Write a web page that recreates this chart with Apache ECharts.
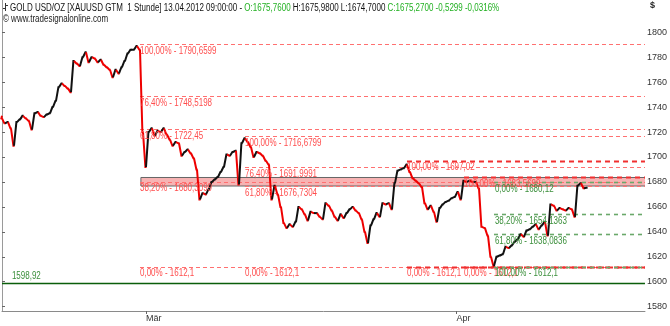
<!DOCTYPE html>
<html><head><meta charset="utf-8">
<script src="https://cdn.jsdelivr.net/npm/echarts@6/dist/echarts.min.js"></script>
<style>html,body{margin:0;padding:0;background:#fff}#c{width:670px;height:326px}</style>
</head><body><div id="c"></div>
<script>
// Hourly gold closes, sampled every ~5 trading hours (bar index 0..195)
const closes = [1731,1727,1728,1723,1709,1728,1730,1733,1731,1729,1722,1735,1736,1733,1732,1734,1735,1740,1745,1756,1759,1757,1755,1752,1777,1775,1773,1780,1784,1776,1780,1779,1776,1778,1774,1772,1770,1764,1770,1767,1772,1777,1783,1786,1786,1789,1786,1720,1692,1720,1723,1717,1721,1720,1723,1718,1714,1709,1712,1711,1701,1704,1706,1703,1699,1690,1666,1671,1670,1674,1680,1682,1684,1688,1692,1702,1701,1704,1705,1678,1711,1715,1712,1708,1700,1704,1703,1701,1697,1694,1666,1677,1670,1660,1647,1643,1646,1644,1648,1660,1658,1654,1649,1656,1655,1655,1652,1650,1663,1661,1657,1652,1649,1654,1651,1655,1658,1660,1657,1655,1650,1640,1631,1645,1650,1655,1652,1663,1662,1663,1658,1679,1689,1690,1691,1694,1688,1683,1681,1679,1676,1663,1658,1661,1656,1648,1659,1662,1664,1665,1667,1668,1672,1666,1681,1680,1681,1680,1680,1675,1644,1643,1637,1620,1612.5,1620,1621,1622,1628,1627,1629,1632,1634,1638,1636,1641,1642,1644,1646,1642,1645,1648,1637,1662,1661,1657,1659,1658,1657,1659,1658,1652,1677,1679,1675,1675.3];
const firstOpen = 1733;

// Fibonacci retracements (start bar index, percent labels, level values)
const fib1Start = 46;
const fib1Pct = ['100,00%','76,40%','61,80%','38,20%','0,00%'];
const fib1Val = [1790.6599,1748.5198,1722.45,1680.3099,1612.1];
const fib2Start = 81;
const fib2Pct = ['100,00%','76,40%','61,80%','0,00%'];
const fib2Val = [1716.6799,1691.9991,1676.7304,1612.1];
const fib3Start = 135;
const fib3Pct = ['100,00%','0,00%'];
const fib3Val = [1697.02,1612.1];
const fib4Start = 154;
const fib4Pct = ['100,00%','0,00%'];
const fib4Val = [1683.5699,1612.1];
const fibGStart = 164;
const fibGPct = ['0,00%','38,20%','61,80%','100,00%'];
const fibGVal = [1680.12,1654.1363,1638.0836,1612.1];
// shaded zone
const zoneStart = 46.3;
const zoneLow = 1676.7304, zoneHigh = 1683.5699;
// support line
const supportVal = 1598.92;

// axes
const yTicks = [1580,1600,1620,1640,1660,1680,1700,1720,1740,1760,1780,1800];
const xTickPos = [48, 151.5];
const xTickLabels = ['Mär','Apr'];
const xMin = 0, xMax = 214.33, yMin = 1576.5, yMax = 1825.9;

const FAM = 'Liberation Sans';
const FS = 10;
const SX = 0.8;
const RED_T = '#ff4d4d', GREEN_T = '#3b8f3b';

const segData = closes.map((c, i) => [i, i === 0 ? firstOpen : closes[i-1], c]);

function lineItems(start, vals, style) { return vals.map(v => [start, v, style]); }
const lineData = [].concat(
  lineItems(fib1Start, fib1Val, 0),
  lineItems(fib2Start, fib2Val, 0),
  lineItems(fib3Start, fib3Val, 1),
  lineItems(fib4Start, fib4Val, 1),
  lineItems(fibGStart, fibGVal, 2),
  [[xMin, supportVal, 3]]
);
const lineStyles = [
  {stroke:'#ff7070', lineWidth:1, lineDash:[4,3]},
  {stroke:'#f03030', lineWidth:2, lineDash:[5,4]},
  {stroke:'#6aa86a', lineWidth:1.6, lineDash:[4,4]},
  {stroke:'#0b5e0b', lineWidth:1.6}
];

function fmt(v){ return String(v).replace('.', ','); }
const labels = [];
function addLabels(start, pcts, vals, color) {
  pcts.forEach((p, k) => labels.push({x: start, v: vals[k], text: p + ' - ' + fmt(vals[k]), color: color, above: false}));
}
addLabels(fib1Start, fib1Pct, fib1Val, RED_T);
addLabels(fib2Start, fib2Pct, fib2Val, RED_T);
addLabels(fib3Start, fib3Pct, fib3Val, RED_T);
addLabels(fib4Start, fib4Pct, fib4Val, RED_T);
addLabels(fibGStart + 0.3, fibGPct, fibGVal, GREEN_T);
labels.push({x: 3.3, v: supportVal, text: fmt(supportVal), color: GREEN_T, above: true});

const chart = echarts.init(document.getElementById('c'), null, {renderer:'canvas'});
chart.setOption({
  animation: false,
  backgroundColor: '#fff',
  grid: {left: 2, right: 25, top: 0, bottom: 15, containLabel: false},
  xAxis: {
    type: 'value', min: xMin, max: xMax,
    axisLine: {show: true, lineStyle: {color: '#8a8a8a', width: 1}},
    axisTick: {show: true, length: 3, customValues: xTickPos, lineStyle: {color: '#666'}},
    axisLabel: {customValues: xTickPos, align: 'left', margin: 3, fontSize: 9, color: '#333', fontFamily: FAM,
      formatter: v => { const k = xTickPos.findIndex(p => Math.abs(p - v) < 0.01); return k >= 0 ? xTickLabels[k] : ''; }},
    splitLine: {show: false}
  },
  yAxis: [{
    type: 'value', position: 'right', min: yMin, max: yMax,
    axisLine: {show: true, lineStyle: {color: '#8a8a8a', width: 1}},
    axisTick: {show: true, length: 3, customValues: yTicks, lineStyle: {color: '#666'}},
    axisLabel: {customValues: yTicks, margin: 2, fontSize: 9, color: '#333', fontFamily: FAM, formatter: v => String(v)},
    splitLine: {show: false}
  }, {
    type: 'value', position: 'left', min: yMin, max: yMax,
    axisLine: {show: true, lineStyle: {color: '#9a9a9a', width: 1}},
    axisTick: {show: false}, axisLabel: {show: false}, splitLine: {show: false}
  }],
  series: [
    { // shaded zone
      type: 'custom', z: 1, silent: true,
      data: [[zoneStart, zoneLow, zoneHigh]],
      renderItem: (params, api) => {
        const a = api.coord([api.value(0), api.value(2)]);
        const b = api.coord([api.value(0), api.value(1)]);
        const right = params.coordSys.x + params.coordSys.width;
        return {type: 'group', children: [
          {type: 'rect', shape: {x: a[0], y: a[1], width: right - a[0], height: b[1] - a[1]}, style: {fill: '#f7b3b3'}},
          {type: 'line', shape: {x1: a[0], y1: a[1], x2: right, y2: a[1]}, style: {stroke: '#666', lineWidth: 1}},
          {type: 'line', shape: {x1: a[0], y1: b[1], x2: right, y2: b[1]}, style: {stroke: '#666', lineWidth: 1}},
          {type: 'line', shape: {x1: a[0], y1: a[1], x2: a[0], y2: b[1]}, style: {stroke: '#666', lineWidth: 1}}
        ]};
      }
    },
    { // horizontal levels
      type: 'custom', z: 2, silent: true,
      data: lineData,
      renderItem: (params, api) => {
        const p = api.coord([api.value(0), api.value(1)]);
        const right = params.coordSys.x + params.coordSys.width;
        const y = Math.round(p[1]) + 0.5;
        return {type: 'line', shape: {x1: p[0], y1: y, x2: right, y2: y}, style: Object.assign({fill: null}, lineStyles[api.value(2)])};
      }
    },
    { // price path, each step coloured by direction
      type: 'custom', z: 3, silent: true,
      data: segData,
      renderItem: (params, api) => {
        const i = api.value(0), o = api.value(1), c = api.value(2);
        const p1 = api.coord([i === 0 ? i : i - 1, o]);
        const p2 = api.coord([i, c]);
        return {type: 'polyline', shape: {points: [[p1[0], p1[1]], [p2[0] - 0.6, p2[1]], [p2[0] + 0.6, p2[1]]]},
          style: {stroke: c >= o ? '#111' : '#ee0000', lineWidth: 2, fill: null, lineJoin: 'miter'}};
      }
    },
    { // labels
      type: 'custom', z: 4, silent: true,
      data: labels.map(l => [l.x, l.v]),
      renderItem: (params, api) => {
        const l = labels[params.dataIndex];
        const p = api.coord([api.value(0), api.value(1)]);
        return {type: 'text', x: p[0], y: l.above ? p[1] - 2 : p[1] + 2, scaleX: SX,
          style: {text: l.text, fill: l.color, fontFamily: FAM, fontSize: FS, verticalAlign: l.above ? 'bottom' : 'top', align: 'left'}};
      }
    }
  ],
  graphic: [
    {type: 'text', x: 10, y: 3, scaleX: SX, silent: true,
      style: {text: '{k|GOLD USD/OZ [XAUUSD GTM  1 Stunde] 13.04.2012 09:00:00 - }{g|O:1675,7600}{k| H:1675,9800 L:1674,7000 }{g|C:1675,2700 -0,5299 -0,0316%}',
        fontFamily: FAM, fontSize: FS,
        rich: {k: {fill: '#111', fontFamily: FAM, fontSize: FS}, g: {fill: '#22b022', fontFamily: FAM, fontSize: FS}}}},
    {type: 'text', x: 3, y: 14, scaleX: SX, silent: true,
      style: {text: '© www.tradesignalonline.com', fill: '#222', fontFamily: FAM, fontSize: FS}},
    {type: 'text', x: 650, y: 1, silent: true,
      style: {text: '$', fill: '#222', fontFamily: FAM, fontSize: 9, fontWeight: 'bold'}},
    {type: 'line', silent: true, shape: {x1: 5.5, y1: 3, x2: 5.5, y2: 11}, style: {stroke: '#333', lineWidth: 1}},
    {type: 'line', silent: true, shape: {x1: 3, y1: 8.5, x2: 5.5, y2: 8.5}, style: {stroke: '#333', lineWidth: 1}},
    {type: 'line', silent: true, shape: {x1: 5.5, y1: 5.5, x2: 8, y2: 5.5}, style: {stroke: '#333', lineWidth: 1}}
  ]
});
</script></body></html>
